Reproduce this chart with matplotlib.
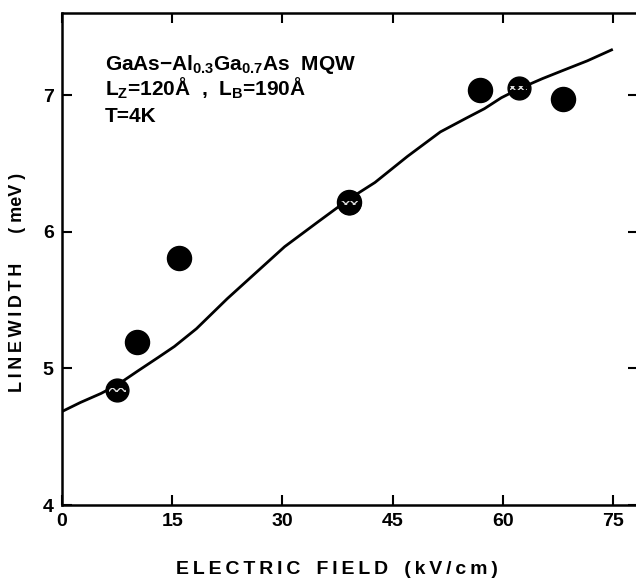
import matplotlib
matplotlib.use("Agg")
import matplotlib.pyplot as plt

# measured points
field_filled = [10.2, 15.9, 39.1, 56.9, 68.2]
width_filled = [5.19, 5.81, 6.22, 7.04, 6.97]
field_hatched = [7.5, 39.1, 62.2]
width_hatched = [4.84, 6.21, 7.05]

# calculated curve
curve_field = [0, 2.5, 5.3, 7.5, 10.3, 13.1, 15.3, 18.3, 22.5, 26.4, 30.3, 34.8,
               39.1, 42.6, 47.0, 51.5, 55.0, 57.5, 59.8, 62.4, 65.4, 68.2, 71.5, 74.8]
curve_width = [4.684, 4.75, 4.816, 4.878, 4.98, 5.08, 5.16, 5.29, 5.51, 5.70, 5.89, 6.07,
               6.24, 6.36, 6.55, 6.73, 6.83, 6.90, 6.98, 7.05, 7.12, 7.18, 7.25, 7.33]

x_ticks = [0, 15, 30, 45, 60, 75]
y_ticks = [4, 5, 6, 7]

plt.rcParams["font.family"] = ["Liberation Sans", "DejaVu Sans"]
plt.rcParams["font.weight"] = "bold"
plt.rcParams["mathtext.fontset"] = "custom"
plt.rcParams["mathtext.rm"] = "Liberation Sans:bold"
plt.rcParams["mathtext.it"] = "Liberation Sans:bold"
plt.rcParams["mathtext.bf"] = "Liberation Sans:bold"
plt.rcParams["hatch.linewidth"] = 1.0


def spaced(s):
    # wide letter spacing like the original typesetting
    return "\u2009".join(s)


fig = plt.figure(figsize=(6.36, 5.79), dpi=100)
ax = fig.add_axes([62 / 636, 1 - 505 / 579, 576 / 636, 492 / 579])

ax.plot(curve_field, curve_width, color="black", lw=2.0, zorder=2)
ax.scatter(field_filled, width_filled, s=300, color="black", zorder=3)
ax.scatter(field_hatched, width_hatched, s=270, color="black", zorder=3)
# thin dotted band across the hatched symbols
band = [(-1, -0.25), (1, -0.25), (1, 0.25), (-1, 0.25)]
ax.scatter(field_hatched, width_hatched, s=150, marker=band, facecolor="none",
           edgecolor="#dddddd", hatch="xxxx", linewidth=0, zorder=4)

ax.set_xlim(0, 78.4)
ax.set_ylim(4, 7.6)
ax.set_xticks(x_ticks)
ax.set_yticks(y_ticks)
ax.tick_params(direction="in", length=7, width=1.5, top=True, right=True,
               labelsize=14, pad=6)
for lab in ax.get_xticklabels() + ax.get_yticklabels():
    lab.set_fontweight("bold")
for sp in ax.spines.values():
    sp.set_linewidth(1.8)

xlabel = "   ".join(spaced(w) for w in ["ELECTRIC", "FIELD", "(kV/cm)"])
ylabel = "      ".join([spaced("LINEWIDTH"), "( meV )"])
fig.text(337 / 636, 1 - 569 / 579, xlabel, ha="center", va="center",
         fontsize=14, fontweight="bold")
fig.text(18 / 636, 1 - 282 / 579, ylabel, rotation=90, ha="center",
         va="center", fontsize=13, fontweight="bold")

info = [r"GaAs$-$Al$_{0.3}$Ga$_{0.7}$As  MQW",
        r"L$_{\mathrm{Z}}$=120Å  ,  L$_{\mathrm{B}}$=190Å",
        "T=4K"]
for i, line in enumerate(info):
    fig.text(105 / 636, 1 - (70 + 26 * i) / 579, line, ha="left", va="baseline",
             fontsize=15, fontweight="bold")

fig.savefig("out.png", dpi=100)
